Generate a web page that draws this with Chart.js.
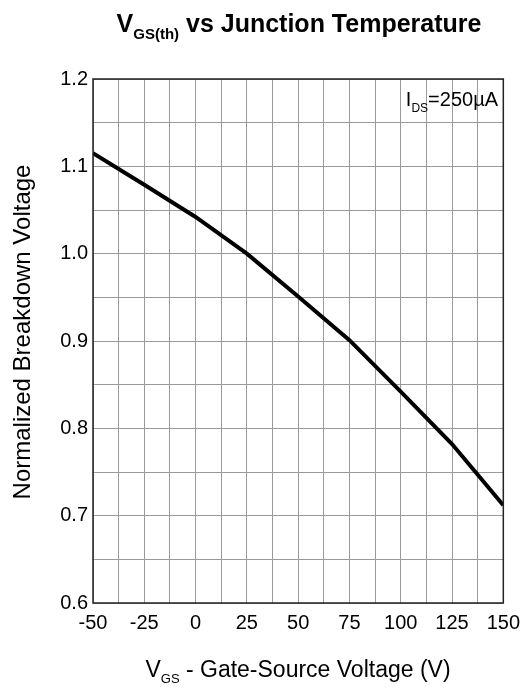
<!DOCTYPE html>
<html>
<head>
<meta charset="utf-8">
<script src="https://cdn.jsdelivr.net/npm/chart.js@4"></script>
<style>
    html, body { margin: 0; padding: 0; background: #fff; }
    #wrap { width: 528px; height: 688px; position: relative; }
</style>
</head>
<body>
<div id="wrap"><canvas id="vthChart"></canvas></div>
<script>
// junction temperature (°C) and normalized voltage read at each point
const temps = [-50, -25, 0, 25, 50, 75, 100, 125, 150];
const vNorm = [1.115, 1.079, 1.042, 1.0, 0.951, 0.901, 0.842, 0.782, 0.712];

const xTickLabels = [-50, -25, 0, 25, 50, 75, 100, 125, 150];
const yTickLabels = [0.6, 0.7, 0.8, 0.9, 1.0, 1.1, 1.2];

const FONT = "'Liberation Sans', Arial, Helvetica, sans-serif";

// draws a run of text pieces (main + subscripts) starting from x
function drawRuns(ctx, runs, x, y, align) {
    let total = 0;
    runs.forEach((r) => {
        ctx.font = r.font;
        r.w = ctx.measureText(r.t).width;
        total += r.w;
    });
    let cx = x;
    if (align === "center") cx = x - total / 2;
    if (align === "right") cx = x - total;
    ctx.textAlign = "left";
    ctx.textBaseline = "alphabetic";
    runs.forEach((r) => {
        ctx.font = r.font;
        ctx.fillText(r.t, cx, y + (r.dy || 0));
        cx += r.w;
    });
}

const labelsPlugin = {
    id: "labels",
    afterDraw(chart) {
        const ctx = chart.ctx;
        const a = chart.chartArea;
        ctx.save();

        // frame around plot
        ctx.strokeStyle = "#222";
        ctx.lineWidth = 1.5;
        ctx.strokeRect(a.left, a.top, a.right - a.left, a.bottom - a.top);

        ctx.fillStyle = "#000";

        // title
        drawRuns(ctx, [
            { t: "V", font: "bold 25px " + FONT },
            { t: "GS(th)", font: "bold 15px " + FONT, dy: 7 },
            { t: " vs Junction Temperature", font: "bold 25px " + FONT },
        ], 299, 32, "center");

        // x axis title
        drawRuns(ctx, [
            { t: "V", font: "23px " + FONT },
            { t: "GS", font: "13px " + FONT, dy: 6 },
            { t: " - Gate-Source Voltage (V)", font: "23px " + FONT },
        ], 298, 677, "center");

        // y axis title
        ctx.save();
        ctx.translate(30, 332);
        ctx.rotate(-Math.PI / 2);
        drawRuns(ctx, [
            { t: "Normalized Breakdown Voltage", font: "24px " + FONT },
        ], 0, 0, "center");
        ctx.restore();

        // test condition
        drawRuns(ctx, [
            { t: "I", font: "20px " + FONT },
            { t: "DS", font: "12px " + FONT, dy: 6 },
            { t: "=250\u00B5A", font: "20px " + FONT },
        ], 498, 106, "right");

        ctx.restore();
    },
};

const ctx = document.getElementById("vthChart").getContext("2d");
new Chart(ctx, {
    type: "line",
    data: {
        datasets: [
            {
                data: temps.map((t, i) => ({ x: t, y: vNorm[i] })),
                borderColor: "#000",
                borderWidth: 4,
                pointRadius: 0,
                tension: 0,
                fill: false,
            },
        ],
    },
    options: {
        responsive: true,
        maintainAspectRatio: false,
        animation: false,
        layout: { padding: { top: 79, right: 21, left: 0, bottom: 0 } },
        plugins: {
            legend: { display: false },
            title: { display: false },
            tooltip: { enabled: false },
        },
        scales: {
            x: {
                type: "linear",
                min: -50,
                max: 150,
                afterFit(scale) { scale.height = 85; },
                grid: { color: "#9a9a9a", lineWidth: 1, drawTicks: false },
                border: { display: false },
                ticks: {
                    stepSize: 12.5,
                    autoSkip: false,
                    maxRotation: 0,
                    padding: 8,
                    color: "#000",
                    font: { family: FONT, size: 20 },
                    callback: (v) => (xTickLabels.includes(v) ? String(v) : ""),
                },
            },
            y: {
                min: 0.6,
                max: 1.2,
                afterFit(scale) { scale.width = 93; },
                grid: { color: "#9a9a9a", lineWidth: 1, drawTicks: false },
                border: { display: false },
                ticks: {
                    stepSize: 0.05,
                    autoSkip: false,
                    padding: 5,
                    color: "#000",
                    font: { family: FONT, size: 20 },
                    callback: (v) => {
                        const hit = yTickLabels.find((t) => Math.abs(t - v) < 1e-6);
                        return hit !== undefined ? hit.toFixed(1) : "";
                    },
                },
            },
        },
    },
    plugins: [labelsPlugin],
});
</script>
</body>
</html>
